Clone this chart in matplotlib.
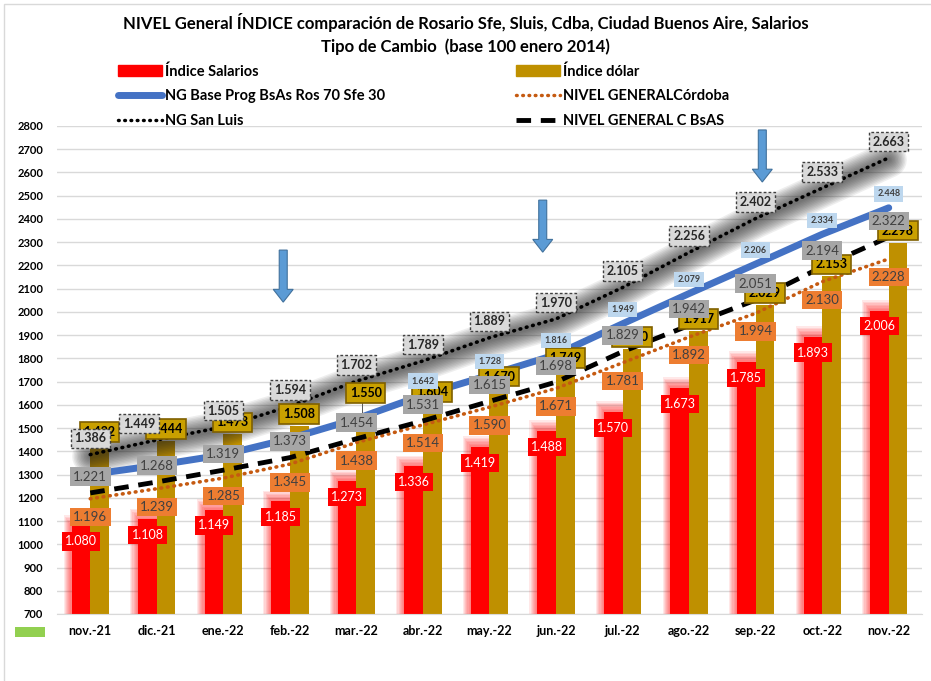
import matplotlib
matplotlib.use("Agg")
import matplotlib.pyplot as plt
import numpy as np
from matplotlib.patches import Patch, FancyArrow, Rectangle
from matplotlib.lines import Line2D

plt.rcParams['font.family'] = ['Lato', 'DejaVu Sans']

# datos (índices, base 100 enero 2014)
meses = ['nov.-21', 'dic.-21', 'ene.-22', 'feb.-22', 'mar.-22', 'abr.-22', 'may.-22',
         'jun.-22', 'jul.-22', 'ago.-22', 'sep.-22', 'oct.-22', 'nov.-22']
salarios = [1080, 1108, 1149, 1185, 1273, 1336, 1419, 1488, 1570, 1673, 1785, 1893, 2006]
dolar = [1432, 1444, 1473, 1508, 1550, 1604, 1670, 1749, 1840, 1917, 2029, 2153, 2298]
ng_bsas_ros = [1300, 1340, 1385, 1455, 1540, 1642, 1728, 1816, 1949, 2079, 2206, 2334, 2448]
cordoba = [1196, 1239, 1285, 1345, 1438, 1514, 1590, 1671, 1781, 1892, 1994, 2130, 2228]
san_luis = [1386, 1449, 1505, 1594, 1702, 1789, 1889, 1970, 2105, 2256, 2402, 2533, 2663]
c_bsas = [1221, 1268, 1319, 1373, 1454, 1531, 1615, 1698, 1829, 1942, 2051, 2194, 2322]


def fmt(v):
    return f"{v / 1000:.3f}"


fig = plt.figure(figsize=(9.31, 6.81), dpi=100)
ax = fig.add_axes([57 / 931, 67 / 681, (922 - 57) / 931, (614 - 126) / 681])

x = np.arange(len(meses))
w = 0.28
sal = np.array(salarios)

# barras de salarios con "brillo" rojo
for k in np.linspace(1, 0, 8):
    ax.bar(x - w / 2 - 0.04 * k, sal + 45 * k, width=w + 0.16 * k, color='red',
           alpha=0.09, lw=0, zorder=2)
ax.bar(x - w / 2, sal, width=w, color='#ff0000', lw=0, zorder=2.1)
ax.bar(x + w / 2, dolar, width=w, color='#bf9000', lw=0, zorder=2.2)

# sombra de San Luis
for lw in np.linspace(26, 3, 12):
    ax.plot(x, np.array(san_luis) - 8, color='#202020', lw=lw, alpha=0.075,
            solid_capstyle='round', zorder=3)

ax.plot(x, ng_bsas_ros, color='#4472c4', lw=5, solid_capstyle='round', zorder=3.2)
ax.plot(x, cordoba, color='#c55a11', lw=2.6, linestyle=(0, (0.2, 1.6)),
        dash_capstyle='round', zorder=3.3)
ax.plot(x, c_bsas, color='black', lw=3.5, linestyle=(0, (3, 2)), zorder=3.4)
ax.plot(x, san_luis, color='black', lw=2.6, linestyle=(0, (0.2, 1.6)),
        dash_capstyle='round', zorder=3.5)

# flechas
for xa, y0 in [(3 - 0.1, 2266), (7 - 0.2, 2481), (10 + 0.1, 2783)]:
    ax.add_patch(FancyArrow(xa, y0, 0, -224, width=0.12, head_width=0.3,
                            head_length=55, length_includes_head=True,
                            fc='#5b9bd5', ec='#41719c', lw=0.8, zorder=4))

# etiquetas de datos
for i in range(len(meses)):
    ax.text(x[i] - w / 2, salarios[i] - 68, fmt(salarios[i]), ha='center', va='center',
            fontsize=9, color='white', zorder=6,
            bbox=dict(boxstyle='square,pad=0.25', fc='#ff0000', ec='none'))
    ax.text(x[i], cordoba[i] - 78, fmt(cordoba[i]), ha='center', va='center',
            fontsize=9.5, color='#404040', zorder=6,
            bbox=dict(boxstyle='square,pad=0.25', fc='#ed7d31', ec='none'))
    dy = 100 if i == 4 else 52
    if i == 4:
        ax.plot([x[i] + w / 2 - 0.05] * 2, [dolar[i], dolar[i] + dy], color='#595959',
                lw=0.7, zorder=5.5)
    ax.text(x[i] + w / 2, dolar[i] + dy, fmt(dolar[i]), ha='center', va='center',
            fontsize=9, fontweight='bold', color='black', zorder=6,
            bbox=dict(boxstyle='square,pad=0.3', fc='#c9a000', ec='#7f6000', lw=1.2))
    ax.text(x[i], c_bsas[i] + 70, fmt(c_bsas[i]), ha='center', va='center',
            fontsize=9.5, color='#404040', zorder=6.5,
            bbox=dict(boxstyle='square,pad=0.25', fc='#a6a6a6', ec='none'))
    if i >= 5:
        ax.text(x[i], ng_bsas_ros[i] + 60, fmt(ng_bsas_ros[i]), ha='center', va='center',
                fontsize=6.5, fontweight='bold', color='#404040', zorder=6,
                bbox=dict(boxstyle='square,pad=0.35', fc='#bdd7ee', ec='none'))
    dx = -0.27 if i == 1 else 0
    ax.text(x[i] + dx, san_luis[i] + 70, fmt(san_luis[i]), ha='center', va='center',
            fontsize=9, fontweight='bold', color='#262626', zorder=7,
            bbox=dict(boxstyle='square,pad=0.3', fc='#d9d9d9', ec='#404040',
                      lw=1, ls=(0, (2, 1.5))))

ax.set_xlim(-0.5, len(meses) - 0.5)
ax.set_ylim(700, 2800)
ax.set_yticks(range(700, 2801, 100))
ax.set_xticks(x)
ax.set_xticklabels(meses)
ax.tick_params(axis='y', length=0, pad=10, labelsize=8)
ax.tick_params(axis='x', length=0, pad=8, labelsize=9)
for t in ax.get_yticklabels():
    t.set_fontweight('bold')
for t in ax.get_xticklabels():
    t.set_fontweight('bold')
ax.yaxis.grid(True, color='#d9d9d9', lw=1)
ax.set_axisbelow(True)
for s in ['top', 'right', 'left']:
    ax.spines[s].set_visible(False)
ax.spines['bottom'].set_color('#d9d9d9')

# titulo
fig.text(0.5, 1 - 22 / 681, 'NIVEL General ÍNDICE comparación de Rosario Sfe, Sluis, Cdba, Ciudad Buenos Aire, Salarios',
         ha='center', va='center', fontsize=12, fontweight='bold')
fig.text(0.5, 1 - 47 / 681, 'Tipo de Cambio  (base 100 enero 2014)',
         ha='center', va='center', fontsize=12, fontweight='bold')

# leyendas
h_izq = [Patch(color='#ff0000'),
         Line2D([], [], color='#4472c4', lw=5, solid_capstyle='round'),
         Line2D([], [], color='black', lw=2.5, linestyle=(0, (0.2, 1.6)), dash_capstyle='round')]
l_izq = ['Índice Salarios', 'NG Base Prog BsAs Ros 70 Sfe 30', 'NG San Luis']
h_der = [Patch(color='#bf9000'),
         Line2D([], [], color='#c55a11', lw=2.5, linestyle=(0, (0.2, 1.6)), dash_capstyle='round'),
         Line2D([], [], color='black', lw=3.5, linestyle=(0, (3, 2)))]
l_der = ['Índice dólar', 'NIVEL GENERALCórdoba', 'NIVEL GENERAL C BsAS']
for hs, ls, x0 in [(h_izq, l_izq, 118), (h_der, l_der, 516)]:
    fig.legend(hs, ls, loc='upper left', bbox_to_anchor=(x0 / 931, 1 - 64 / 681),
               frameon=False, prop={'size': 10.5, 'weight': 'bold'},
               handlelength=3.0, handletextpad=0.2, labelspacing=0.75,
               borderaxespad=0, borderpad=0)

# marco y detalle inferior
fig.add_artist(Rectangle((4 / 931, -0.1), 2, 1.1 - 4 / 681, fill=False,
                         ec='#d9d9d9', lw=1, transform=fig.transFigure))
fig.add_artist(Rectangle((15 / 931, 1 - 637 / 681), 30 / 931, 10 / 681,
                         fc='#92d050', ec='none', transform=fig.transFigure))

fig.savefig('out.png', dpi=100)
